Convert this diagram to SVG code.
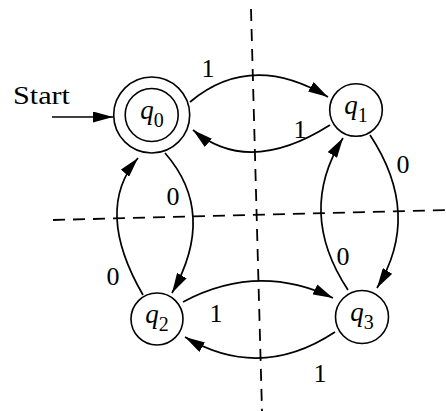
<svg xmlns="http://www.w3.org/2000/svg" width="446" height="411" viewBox="0 0 446 411">
<style>
.st{fill:#fff;stroke:#000;stroke-width:1.6}
.e{fill:none;stroke:#000;stroke-width:1.7;marker-end:url(#ah)}
.d{fill:none;stroke:#000;stroke-width:1.8;stroke-dasharray:12 8}
.lb{font-family:"Liberation Serif","Times New Roman",serif;font-size:26px;fill:#000;text-anchor:middle}
.q{font-family:"Liberation Serif","Times New Roman",serif;font-size:27px;font-style:italic;fill:#000;text-anchor:middle}
.sub{font-style:normal;font-size:20px}
</style>
<defs>
<marker id="ah" viewBox="0 0 20 11" markerWidth="20" markerHeight="11" refX="20" refY="5.5" orient="auto" markerUnits="userSpaceOnUse">
<path d="M0,0 L20,5.5 L0,11 z" fill="#000"/>
</marker>
</defs>
<rect width="446" height="411" fill="#fff"/>
<g id="axes">
<line class="d" x1="251" y1="9" x2="262" y2="411"/>
<line class="d" x1="53" y1="220" x2="446" y2="210"/>
</g>
<g id="connectors">
<line class="e" x1="52" y1="117" x2="113" y2="117"/>
<path class="e" d="M190,102 Q251,51 328,97"/>
<path class="e" d="M330,125 Q248.5,176.5 193,130"/>
<path class="e" d="M165,153 Q217.5,213 172,293"/>
<path class="e" d="M143,295 Q93.5,209.5 138,158"/>
<path class="e" d="M370,135 Q422.5,214.5 377,288"/>
<path class="e" d="M348,290 Q296.5,212 343,138"/>
<path class="e" d="M183,302 Q258,262 333,298"/>
<path class="e" d="M335,332 Q260,381.5 185,337"/>
</g>
<g id="labels">
<text class="lb" x="13" y="104" text-anchor="start" style="text-anchor:start" font-size="28" textLength="57" lengthAdjust="spacingAndGlyphs">Start</text>
<text class="lb" x="208" y="77">1</text>
<text class="lb" x="300" y="138">1</text>
<text class="lb" x="403" y="173">0</text>
<text class="lb" x="173" y="205">0</text>
<text class="lb" x="113" y="285">0</text>
<text class="lb" x="343" y="265">0</text>
<text class="lb" x="216" y="322">1</text>
<text class="lb" x="320" y="382">1</text>
</g>
<g id="q0">
<circle class="st" cx="151.7" cy="115" r="38"/>
<circle class="st" cx="151.7" cy="115" r="26.5"/>
<text class="q" x="152" y="119">q<tspan class="sub" dy="8">0</tspan></text>
</g>
<g id="q1">
<circle class="st" cx="356" cy="110" r="26.3"/>
<text class="q" x="356" y="114">q<tspan class="sub" dy="8">1</tspan></text>
</g>
<g id="q2">
<circle class="st" cx="157" cy="319" r="26"/>
<text class="q" x="157" y="323">q<tspan class="sub" dy="8">2</tspan></text>
</g>
<g id="q3">
<circle class="st" cx="362" cy="317" r="26.5"/>
<text class="q" x="362" y="321">q<tspan class="sub" dy="8">3</tspan></text>
</g>
</svg>
